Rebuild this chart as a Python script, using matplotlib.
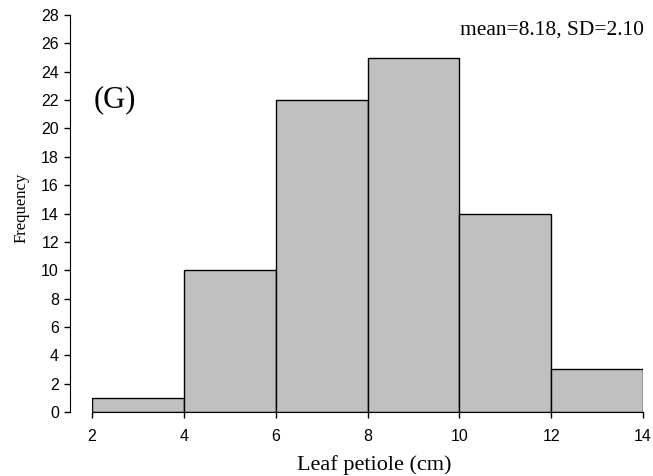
import matplotlib
matplotlib.use("Agg")
import matplotlib.pyplot as plt

bin_edges = [2, 4, 6, 8, 10, 12, 14]
counts = [1, 10, 22, 25, 14, 3]
yticks = list(range(0, 29, 2))
xticks = [2, 4, 6, 8, 10, 12, 14]

W, H = 653, 476
fig = plt.figure(figsize=(W/100, H/100), dpi=100)
ax = fig.add_axes([92/W, 1-412/H, (643-92)/W, (412-15)/H])

widths = [bin_edges[i+1]-bin_edges[i] for i in range(len(counts))]
ax.bar(bin_edges[:-1], counts, width=widths, align='edge', color='#c0c0c0',
       edgecolor='black', linewidth=1.0)

ax.set_xlim(2, 14)
ax.set_ylim(0, 28)
ax.set_yticks(yticks)
ax.set_xticks(xticks)
for s in ['top', 'right']:
    ax.spines[s].set_visible(False)
ax.spines['left'].set_position(('outward', 15.8))
ax.spines['left'].set_bounds(0, 28)
ax.tick_params(axis='both', direction='out', length=4, width=1, labelsize=11.5)
for lab in ax.get_xticklabels() + ax.get_yticklabels():
    lab.set_family('Liberation Sans')
ax.tick_params(axis='x', pad=8)
ax.tick_params(axis='y', pad=4)

fig.text(374.5/W, 1-465/H, 'Leaf petiole (cm)', family='Liberation Serif', fontsize=16,
         ha='center', va='center')
fig.text(22/W, 1-208/H, 'Frequency', family='Liberation Serif', fontsize=12,
         ha='center', va='center', rotation=90)

ax.text(2.5, 22, '(G)', family='Liberation Serif', fontsize=22, ha='center', va='center')
fig.text(644/W, 1-30/H, 'mean=8.18, SD=2.10', family='Liberation Serif', fontsize=15.5,
         ha='right', va='center')

fig.savefig('out.png', dpi=100)
